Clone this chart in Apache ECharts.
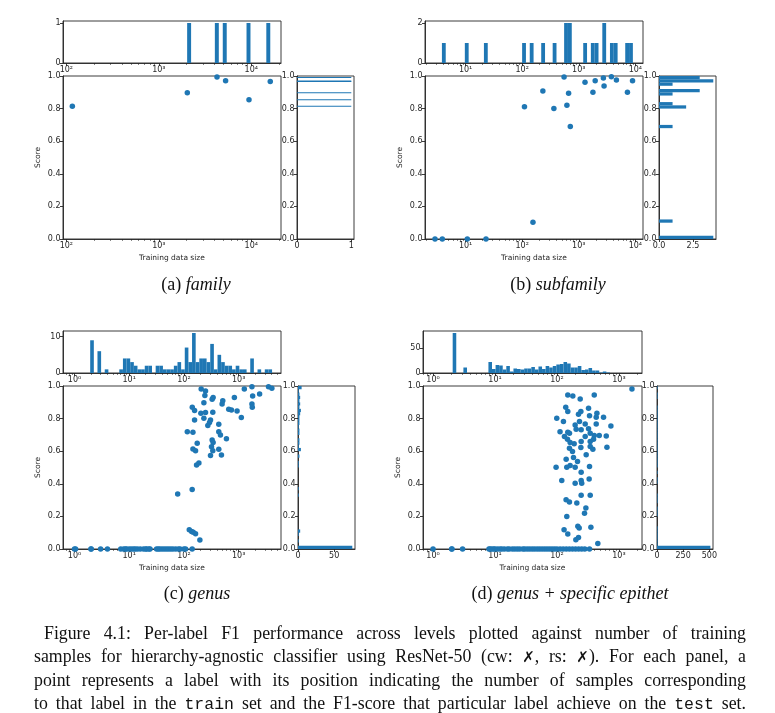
<!DOCTYPE html>
<html><head><meta charset="utf-8">
<script src="https://cdn.jsdelivr.net/npm/echarts@6/dist/echarts.min.js"></script>
<style>
html,body{margin:0;padding:0;background:#fff;}
#chart{position:absolute;left:0;top:0;width:775px;height:713px;}
#cap{position:absolute;left:34px;top:622px;width:712px;font-family:"Liberation Serif","DejaVu Serif",serif;font-size:17.8px;color:#111;}
#cap div{height:23.3px;line-height:23.3px;text-align:justify;text-align-last:justify;white-space:nowrap;}
.tt{font-family:"Liberation Mono",monospace;font-size:16.5px;}
.x{font-family:"DejaVu Sans",sans-serif;font-weight:bold;font-size:15px;}
</style></head><body>
<div id="chart"></div>
<div id="cap">
<div style="padding-left:10px">Figure 4.1: Per-label F1 performance across levels plotted against number of training</div>
<div>samples for hierarchy-agnostic classifier using ResNet-50 (cw: <span class="x">✗</span>, rs: <span class="x">✗</span>). For each panel, a</div>
<div>point represents a label with its position indicating the number of samples corresponding</div>
<div>to that label in the <span class="tt">train</span> set and the F1-score that particular label achieve on the <span class="tt">test</span> set.</div>
</div>
<script>
// ---------- DATA (x values are log10 of training data size) ----------
// (a) family
const aLogSize = [2.065, 3.308, 3.629, 3.722, 3.975, 4.205];
const aScore   = [0.814, 0.898, 0.994, 0.971, 0.855, 0.967];
const aTopStart = 2.065, aTopWidth = 0.0428;
const aTopCounts = [0,0,0,0,0,0,0,0,0,0, 0,0,0,0,0,0,0,0,0,0, 0,0,0,0,0,0,0,0,0,1, 0,0,0,0,0,0,1,0,1,0, 0,0,0,0,1,0,0,0,0,1];
const aRightStart = 0.814, aRightWidth = 0.0036;
const aRightCounts = [1,0,0,0,0,0,0,0,0,0, 0,1,0,0,0,0,0,0,0,0, 0,0,0,1,0,0,0,0,0,0, 0,0,0,0,0,0,0,0,0,0, 0,0,1,1,0,0,0,0,0,1];

// (b) subfamily
const bLogSize = [0.459, 0.588, 1.03, 1.36, 2.04, 2.19, 2.365, 2.56, 2.74, 2.79, 2.82, 2.85, 3.11, 3.25, 3.29, 3.435, 3.447, 3.576, 3.665, 3.86, 3.95];
const bScore   = [0, 0, 0, 0, 0.812, 0.102, 0.908, 0.80, 0.994, 0.82, 0.894, 0.69, 0.961, 0.90, 0.971, 0.988, 0.939, 0.996, 0.976, 0.90, 0.971];
const bTopStart = 0.581, bTopWidth = 0.0675;
const bTopCounts = [1,0,0,0,0,0,1,0,0,0, 0,1,0,0,0,0,0,0,0,0, 0,1,0,1,0,0,1,0,0,1, 0,0,2,2,0,0,0,1,0,1, 1,0,2,0,1,1,0,0,1,1];
const bRightStart = 0, bRightWidth = 0.02;
const bRightCounts = [4,0,0,0,0,1,0,0,0,0, 0,0,0,0,0,0,0,0,0,0, 0,0,0,0,0,0,0,0,0,0, 0,0,0,0,1,0,0,0,0,0, 2,1,0,0,1,3,0,1,4,3];

// (c) genus
const cLogSize = [2.315,2.394,2.382,2.533,2.515,2.364,2.709,2.697,2.921,3.103,3.242,3.255,3.382,3.545,3.606,3.242,3.248,
  2.152,2.194,2.309,2.394,2.527,2.818,2.867,2.970,3.048,2.364,2.194,2.485,2.467,2.436,2.636,2.061,2.164,2.636,2.667,2.776,
  2.242,2.515,2.533,2.503,2.164,2.212,2.527,2.485,2.636,2.685,2.273,2.230,1.885,2.150,2.097,2.139,2.170,2.212,2.291];
const cScore = [0.982,0.969,0.941,0.930,0.918,0.898,0.910,0.890,0.930,0.982,0.996,0.938,0.951,0.996,0.986,0.890,0.869,
  0.869,0.849,0.833,0.837,0.839,0.857,0.853,0.847,0.806,0.802,0.792,0.792,0.776,0.757,0.765,0.720,0.716,0.720,0.700,0.676,
  0.649,0.669,0.653,0.628,0.614,0.602,0.602,0.573,0.612,0.577,0.527,0.515,0.337,0.365,0.118,0.108,0.102,0.094,0.055];
const cZeroLogSize = [0,0.02,0.301,0.305,0.477,0.602,0.845,0.90,0.93,0.954,1.0,1.04,1.08,1.11,1.15,1.2,1.26,1.3,1.32,1.36,1.38,
  1.5,1.53,1.56,1.6,1.64,1.68,1.72,1.76,1.8,1.85,1.9,1.93,2.0,2.03,2.15];
const cTopStart = 0.021, cTopWidth = 0.06646;
const cTopCounts = [0,0,0,0,9,0,6,0,1,0, 0,0,1,4,4,3,2,1,1,2, 2,0,2,2,1,1,1,2,3,1, 7,3,11,3,4,4,3,8,1,5, 3,2,2,1,2,1,1,0,4,0, 1,0,1,1];
const cRightStart = 0, cRightWidth = 0.02;
const cRightCounts = [75,0,1,0,1,3,0,0,0,0, 0,0,0,0,0,0,1,0,1,0, 0,0,0,0,0,1,1,0,2,0, 4,1,2,2,0,2,2,1,2,2, 2,3,4,2,3,2,3,2,1,5];

// (d) genus + specific epithet
const dLogSize = [3.211,2.175,2.256,2.375,2.602,2.142,2.175,2.386,2.348,2.510,2.526,2.645,2.634,2.752,1.997,2.105,2.294,2.364,
  2.456,2.634,2.871,2.310,2.391,2.510,2.537,2.050,2.175,2.202,2.121,2.170,2.456,2.602,2.683,2.796,2.213,2.278,2.391,2.537,
  2.591,2.537,2.807,2.202,2.251,2.386,2.580,2.149,2.267,2.332,2.472,1.986,2.159,2.213,2.294,2.526,2.391,2.078,2.294,2.391,
  2.400,2.520,2.148,2.202,2.321,2.391,2.537,2.467,2.445,2.159,2.337,2.359,2.548,2.115,2.175,2.348,2.305,2.660];
const dScore = [0.982,0.945,0.939,0.920,0.945,0.869,0.843,0.843,0.827,0.863,0.818,0.833,0.808,0.808,0.802,0.782,0.761,0.782,
  0.767,0.767,0.755,0.735,0.731,0.737,0.710,0.720,0.716,0.710,0.690,0.673,0.690,0.696,0.696,0.694,0.653,0.645,0.659,0.659,
  0.673,0.629,0.624,0.618,0.598,0.622,0.612,0.551,0.561,0.537,0.578,0.502,0.502,0.512,0.502,0.506,0.471,0.420,0.404,0.420,
  0.404,0.429,0.302,0.288,0.282,0.329,0.329,0.251,0.220,0.200,0.139,0.129,0.133,0.118,0.092,0.071,0.057,0.033];
const dZeroLogSize = [0,0.301,0.305,0.477,0.903,0.92,0.95,0.98,1.0,1.04,1.08,1.11,1.15,1.2,1.23,1.28,1.32,1.36,1.4,1.45,1.48,
  1.52,1.56,1.6,1.64,1.68,1.72,1.76,1.8,1.84,1.88,1.92,1.96,2.0,2.05,2.1,2.15,2.2,2.25,2.3,2.35,2.4,2.45,2.526];
const dTopStart = 0.0286, dTopWidth = 0.0577;
const dTopCounts = [0,0,0,0,0,80,0,0,11,0, 0,0,0,0,0,22,8,16,15,7, 14,3,9,8,7,9,9,12,7,13, 8,14,11,14,17,18,22,19,11,11, 14,6,7,10,5,5,1,3,1];
const dRightStart = 0, dRightWidth = 0.02;
const dRightCounts = [510,1,1,1,1,1,3,0,0,0, 1,1,1,0,2,1,2,0,0,0, 2,3,0,1,0,6,1,1,2,1, 2,3,4,2,5,3,4,1,4,2, 4,2,2,2,0,0,2,2,0,1];

// tick labels
const scoreTicks = [0, 0.2, 0.4, 0.6, 0.8, 1.0];
const aTopTicks = [0, 1], bTopTicks = [0, 2], cTopTicks = [0, 10], dTopTicks = [0, 50];
const aRightTicks = [0, 1], bRightTicks = [0, 2.5], cRightTicks = [0, 50], dRightTicks = [0, 250, 500];
const subCaptions = [['(a) ', 'family'], ['(b) ', 'subfamily'], ['(c) ', 'genus'], ['(d) ', 'genus + specific epithet']];

// ---------- LAYOUT ----------
const TC = '#262626', BLUE = '#1f77b4', FONT = 'DejaVu Sans', FS = 8, NFS = 7.5;
const SUP = {'0':'⁰','1':'¹','2':'²','3':'³','4':'⁴','5':'⁵'};
const logFmt = v => '10' + SUP[String(Math.round(v))];

const panels = [
  {x:aLogSize, y:aScore, zeros:[], xr:[1.964,4.321],
   top:{s:aTopStart,w:aTopWidth,c:aTopCounts,max:1.05,ticks:aTopTicks,fmt:v=>String(v)},
   right:{s:aRightStart,w:aRightWidth,c:aRightCounts,max:1.05,ticks:aRightTicks,fmt:v=>String(v)},
   gm:[63,76,218,163], gt:[63,21,218,42], gr:[297,76,57,163], cap:[196,285]},
  {x:bLogSize, y:bScore, zeros:[], xr:[0.282,4.135],
   top:{s:bTopStart,w:bTopWidth,c:bTopCounts,max:2.1,ticks:bTopTicks,fmt:v=>String(v)},
   right:{s:bRightStart,w:bRightWidth,c:bRightCounts,max:4.2,ticks:bRightTicks,fmt:v=>v.toFixed(1)},
   gm:[425,76,218,163], gt:[425,21,218,42], gr:[659,76,57,163], cap:[558,285]},
  {x:cLogSize, y:cScore, zeros:cZeroLogSize, xr:[-0.21,3.773],
   top:{s:cTopStart,w:cTopWidth,c:cTopCounts,max:11.55,ticks:cTopTicks,fmt:v=>String(v)},
   right:{s:cRightStart,w:cRightWidth,c:cRightCounts,max:78.75,ticks:cRightTicks,fmt:v=>String(v)},
   gm:[63,386,218,163], gt:[63,331,218,42], gr:[298,386,57,163], cap:[197,594]},
  {x:dLogSize, y:dScore, zeros:dZeroLogSize, xr:[-0.162,3.373],
   top:{s:dTopStart,w:dTopWidth,c:dTopCounts,max:84,ticks:dTopTicks,fmt:v=>String(v)},
   right:{s:dRightStart,w:dRightWidth,c:dRightCounts,max:535,ticks:dRightTicks,fmt:v=>String(v)},
   gm:[423,386,219,163], gt:[423,331,219,42], gr:[657,386,56,163], cap:[570,594]}
];

function majors(lo, hi){ const o=[]; for(let n=Math.ceil(lo); n<=Math.floor(hi); n++) o.push(n); return o; }
function minors(lo, hi){ const o=[]; for(let n=Math.floor(lo); n<=Math.ceil(hi); n++){ for(let k=2;k<=9;k++){ const v=n+Math.log10(k); if(v>lo && v<hi) o.push(v);} } return o; }

const lineStyle = {color: TC, width: 0.9};
const txt = {fontFamily: FONT, fontSize: FS, color: TC};
const ntxt = {fontFamily: FONT, fontSize: NFS, color: TC};
const gridOf = g => ({left:g[0], top:g[1], width:g[2], height:g[3], show:true, borderColor:TC, borderWidth:0.9, backgroundColor:'transparent', containLabel:false});

const grids=[], xAxes=[], yAxes=[], series=[], graphics=[];

function logAxis(gi, xr, named){
  const m = majors(xr[0], xr[1]);
  const ax = {type:'value', gridIndex:gi, min:xr[0], max:xr[1], position:'bottom',
    axisLine:{show:true, onZero:false, lineStyle},
    axisTick:{show:true, length:3, customValues:m, lineStyle},
    axisLabel:Object.assign({customValues:m, formatter:logFmt, margin:2.5}, txt),
    splitLine:{show:false}};
  if (named) Object.assign(ax, {name:'Training data size', nameLocation:'middle', nameGap:15, nameTextStyle:ntxt});
  return ax;
}
function minorAxis(gi, xr){
  const m = minors(xr[0], xr[1]);
  return {type:'value', gridIndex:gi, min:xr[0], max:xr[1], position:'bottom',
    axisLine:{show:false, onZero:false}, axisTick:{show:true, length:1.8, customValues:m, lineStyle:{color:TC,width:0.7}},
    axisLabel:{show:false}, splitLine:{show:false}};
}
function countAxis(gi, max, ticks, fmt, isX){
  return {type:'value', gridIndex:gi, min:0, max:max, position: isX ? 'bottom' : 'left',
    axisLine:{show:true, onZero:false, lineStyle},
    axisTick:{show:true, length:3, customValues:ticks, lineStyle},
    axisLabel:Object.assign({customValues:ticks, formatter:fmt, margin:2.5}, txt),
    splitLine:{show:false}};
}
function scoreAxis(gi, named){
  const ax = {type:'value', gridIndex:gi, min:0, max:1, position:'left',
    axisLine:{show:true, onZero:false, lineStyle},
    axisTick:{show:true, length:3, customValues:scoreTicks, lineStyle},
    axisLabel:Object.assign({customValues:scoreTicks, formatter:v=>v.toFixed(1), margin:2.5}, txt),
    splitLine:{show:false}};
  if (named) Object.assign(ax, {name:'Score', nameLocation:'middle', nameGap:21, nameRotate:90, nameTextStyle:ntxt});
  return ax;
}

panels.forEach((p, pi) => {
  const gM = grids.length;
  grids.push(gridOf(p.gm), gridOf(p.gt), gridOf(p.gr));
  const xM = xAxes.length;
  xAxes.push(logAxis(gM, p.xr, true), minorAxis(gM, p.xr), logAxis(gM+1, p.xr, false), minorAxis(gM+1, p.xr),
             countAxis(gM+2, p.right.max, p.right.ticks, p.right.fmt, true));
  const yM = yAxes.length;
  yAxes.push(scoreAxis(gM, true), countAxis(gM+1, p.top.max, p.top.ticks, p.top.fmt, false), scoreAxis(gM+2, false));

  const pts = p.x.map((v,i)=>[v, p.y[i]]).concat(p.zeros.map(v=>[v, 0]));
  series.push({type:'scatter', xAxisIndex:xM, yAxisIndex:yM, data:pts, symbolSize:5.5,
    itemStyle:{color:BLUE, opacity:1}, silent:true, clip:false});

  const topBins = [];
  p.top.c.forEach((c,k)=>{ if(c>0) topBins.push([p.top.s + k*p.top.w, p.top.s + (k+1)*p.top.w, c]); });
  series.push({type:'custom', xAxisIndex:xM+2, yAxisIndex:yM+1, data:topBins, encode:{x:[0,1], y:2}, silent:true,
    renderItem:(params, api)=>{
      const a = api.coord([api.value(0), api.value(2)]);
      const b = api.coord([api.value(1), 0]);
      return {type:'rect', shape:{x:a[0], y:a[1], width:b[0]-a[0], height:b[1]-a[1]}, style:{fill:BLUE}};
    }});

  const rBins = [];
  p.right.c.forEach((c,k)=>{ if(c>0) rBins.push([p.right.s + k*p.right.w, p.right.s + (k+1)*p.right.w, c]); });
  series.push({type:'custom', xAxisIndex:xM+4, yAxisIndex:yM+2, data:rBins, encode:{x:2, y:[0,1]}, silent:true,
    renderItem:(params, api)=>{
      const a = api.coord([0, api.value(1)]);
      const b = api.coord([api.value(2), api.value(0)]);
      const h = Math.max(b[1]-a[1], 1);
      return {type:'rect', shape:{x:a[0], y:a[1], width:Math.max(b[0]-a[0],0.6), height:h}, style:{fill:BLUE}};
    }});

  graphics.push({type:'text', x:p.cap[0], y:p.cap[1], silent:true,
    style:{text:'{n|'+subCaptions[pi][0]+'}{i|'+subCaptions[pi][1]+'}', align:'center', verticalAlign:'middle',
      fontFamily:'Liberation Serif', fontSize:18, fill:'#111',
      rich:{n:{fontFamily:'Liberation Serif', fontSize:18, fontStyle:'normal', color:'#111'},
            i:{fontFamily:'Liberation Serif', fontSize:18, fontStyle:'italic', color:'#111'}}}});
});

const chart = echarts.init(document.getElementById('chart'), null, {renderer:'canvas'});
chart.setOption({animation:false, backgroundColor:'#fff', grid:grids, xAxis:xAxes, yAxis:yAxes, series:series, graphic:graphics});
</script>
</body></html>
